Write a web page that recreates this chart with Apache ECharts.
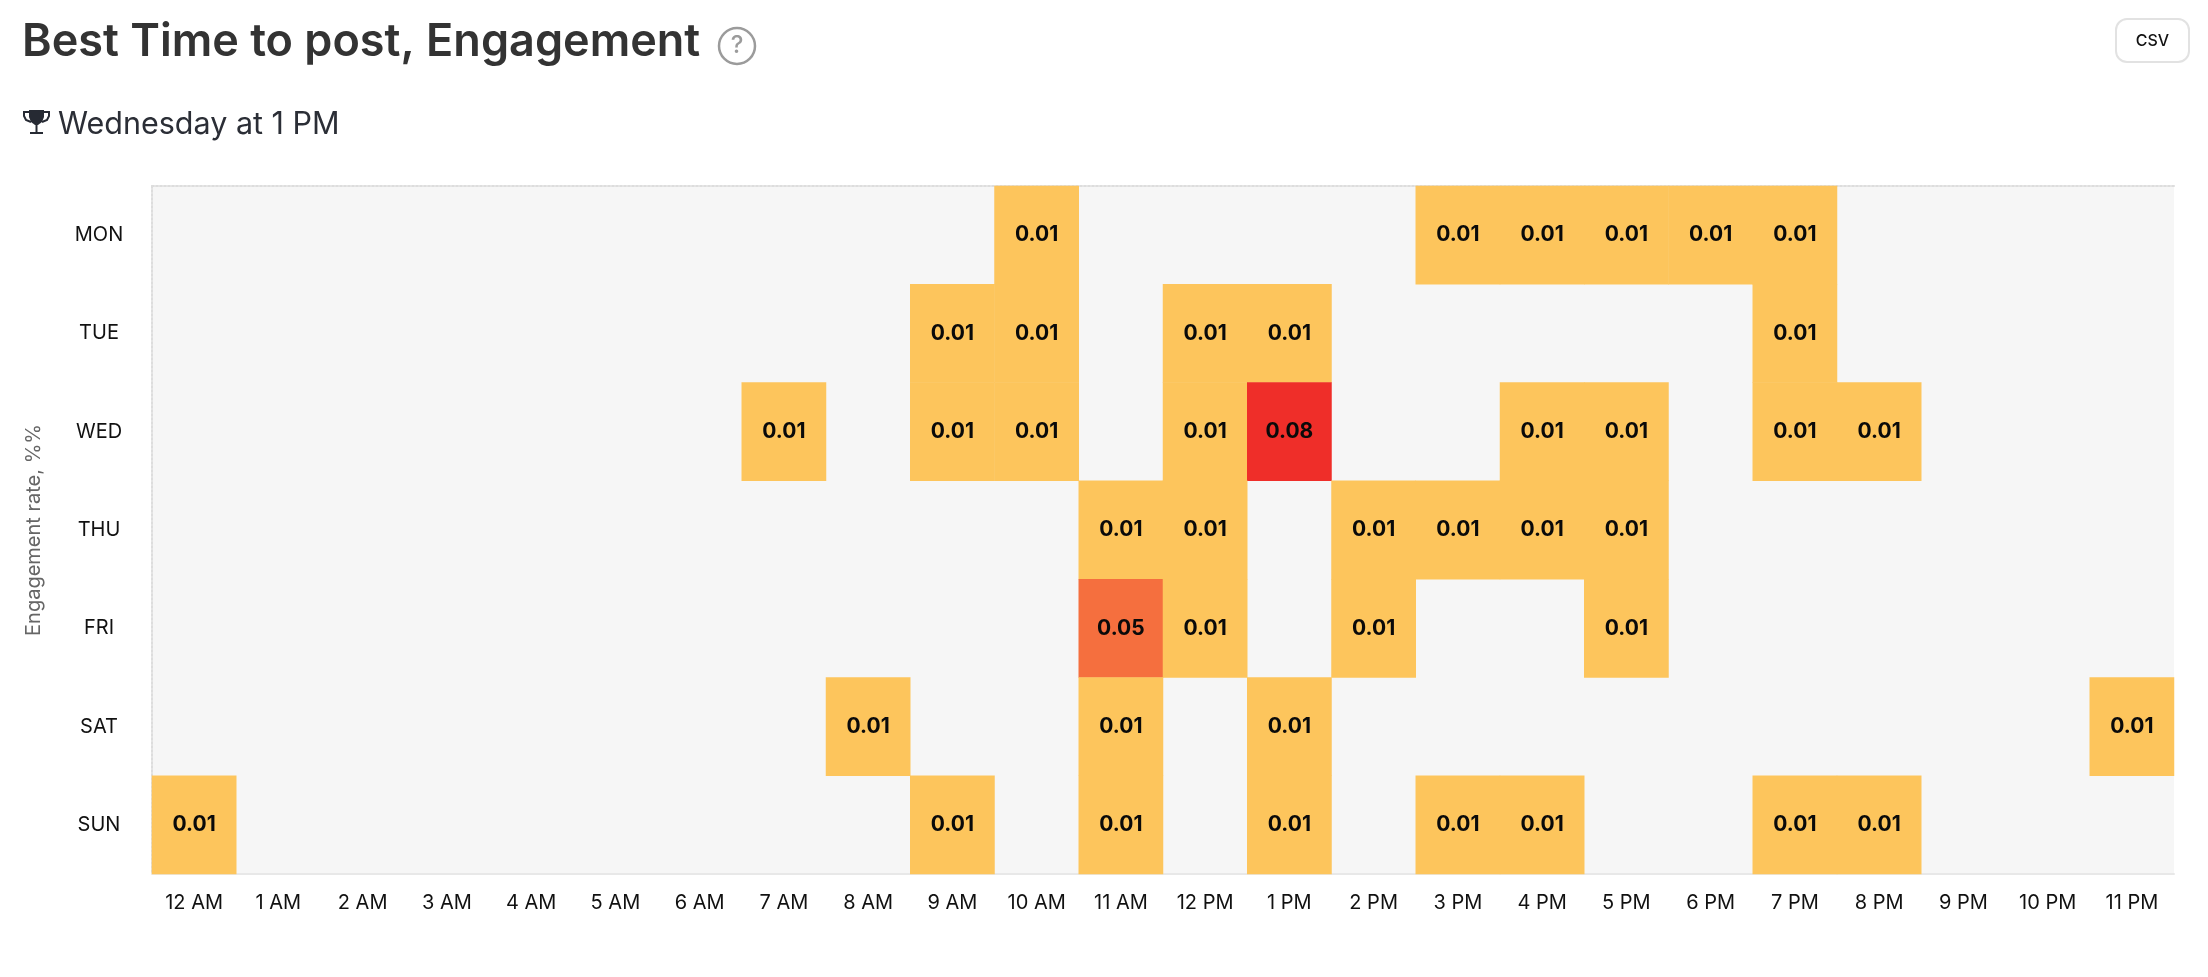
<!DOCTYPE html>
<html><head><meta charset="utf-8">
<style>html,body{margin:0;padding:0;background:#fff}#c{width:2208px;height:977px}</style>
<script src="https://cdn.jsdelivr.net/npm/echarts@6/dist/echarts.min.js"></script>
</head><body><div id="c"></div>
<script>
const hours = ['12 AM','1 AM','2 AM','3 AM','4 AM','5 AM','6 AM','7 AM','8 AM','9 AM','10 AM','11 AM','12 PM','1 PM','2 PM','3 PM','4 PM','5 PM','6 PM','7 PM','8 PM','9 PM','10 PM','11 PM'];
const days = ['MON','TUE','WED','THU','FRI','SAT','SUN'];
const _ = null;
const mon = [_,_,_,_,_,_,_,_,_,_,0.01,_,_,_,_,0.01,0.01,0.01,0.01,0.01,_,_,_,_];
const tue = [_,_,_,_,_,_,_,_,_,0.01,0.01,_,0.01,0.01,_,_,_,_,_,0.01,_,_,_,_];
const wed = [_,_,_,_,_,_,_,0.01,_,0.01,0.01,_,0.01,0.08,_,_,0.01,0.01,_,0.01,0.01,_,_,_];
const thu = [_,_,_,_,_,_,_,_,_,_,_,0.01,0.01,_,0.01,0.01,0.01,0.01,_,_,_,_,_,_];
const fri = [_,_,_,_,_,_,_,_,_,_,_,0.05,0.01,_,0.01,_,_,0.01,_,_,_,_,_,_];
const sat = [_,_,_,_,_,_,_,_,0.01,_,_,0.01,_,0.01,_,_,_,_,_,_,_,_,_,0.01];
const sun = [0.01,_,_,_,_,_,_,_,_,0.01,_,0.01,_,0.01,_,0.01,0.01,_,_,0.01,0.01,_,_,_];
const rows = [mon,tue,wed,thu,fri,sat,sun];
const cells = [];
rows.forEach((r,y)=>r.forEach((v,x)=>{ if(v!==null) cells.push([x,y,v]); }));
const FONT = 'Inter';
const chart = echarts.init(document.getElementById('c'), null, {renderer:'canvas'});
chart.setOption({
  animation:false,
  backgroundColor:'#fff',
  textStyle:{fontFamily:FONT},
  title:[
    {text:'Best Time to post, Engagement',left:17,top:15,textStyle:{fontFamily:FONT,fontSize:45,fontWeight:600,color:'#333333'}},
    {text:'Wednesday at 1 PM',left:53,top:104,textStyle:{fontFamily:FONT,fontSize:30.5,fontWeight:400,color:'#2b2e36'}}
  ],
  grid:{left:152,right:34,top:186,bottom:103,show:true,backgroundColor:'#f6f6f6',borderWidth:0},
  xAxis:[
    {type:'category',data:hours,position:'bottom',
     axisLine:{show:true,lineStyle:{color:'#e8e8e8',width:2}},axisTick:{show:false},
     axisLabel:{interval:0,fontFamily:FONT,fontSize:20,color:'#111',margin:19},splitLine:{show:false},splitArea:{show:false}},
    {type:'category',data:hours,position:'top',
     axisLine:{show:true,lineStyle:{color:'#dddddd',width:2,type:'dotted'}},axisTick:{show:false},axisLabel:{show:false}}
  ],
  yAxis:{type:'category',data:days,inverse:true,
    name:'Engagement rate, %%',nameLocation:'middle',nameGap:108,nameRotate:90,
    nameTextStyle:{fontFamily:FONT,fontSize:20,color:'#666666'},
    axisLine:{show:true,lineStyle:{color:'#dddddd',width:2,type:'dotted'}},axisTick:{show:false},
    axisLabel:{fontFamily:FONT,fontSize:20,color:'#111',align:'center',margin:53},splitLine:{show:false},splitArea:{show:false}},
  visualMap:{show:false,type:'piecewise',dimension:2,seriesIndex:0,
    pieces:[{max:0.02,color:'#fdc55c'},{min:0.02,max:0.07,color:'#f56f3e'},{min:0.07,color:'#ef2e29'}]},
  series:[{type:'heatmap',data:cells,xAxisIndex:0,
    label:{show:true,fontFamily:FONT,fontSize:21,fontWeight:700,color:'#0a0a0a',
      formatter:p=>p.value[2].toFixed(2)},
    itemStyle:{borderWidth:0}}],
  graphic:[
    {type:'circle',shape:{cx:737,cy:46,r:18},style:{fill:'#fff',stroke:'#9b9b9b',lineWidth:2.5}},
    {type:'text',x:737,y:46,style:{text:'?',fontFamily:FONT,fontSize:24,fontWeight:500,fill:'#9b9b9b',textAlign:'center',textVerticalAlign:'middle'}},
    {type:'polygon',shape:{points:[[29,110],[44,110],[44,117],[42,122],[38,125],[35,125],[31,122],[29,117]]},style:{fill:'#262a33'}},
    {type:'rect',shape:{x:35.5,y:124,width:2,height:8},style:{fill:'#262a33'}},
    {type:'rect',shape:{x:30,y:132,width:13,height:2},style:{fill:'#262a33'}},
    {type:'polyline',shape:{points:[[29,112],[24,112],[24,116],[26,120],[31,122]]},style:{fill:'none',stroke:'#262a33',lineWidth:2}},
    {type:'polyline',shape:{points:[[44,112],[49,112],[49,116],[47,120],[42,122]]},style:{fill:'none',stroke:'#262a33',lineWidth:2}},
    {type:'rect',shape:{x:2116,y:19,width:73,height:43,r:11},style:{fill:'#fff',stroke:'#e2e2e2',lineWidth:2}},
    {type:'text',x:2152.5,y:41,style:{text:'CSV',fontFamily:FONT,fontSize:16,fontWeight:500,fill:'#111',textAlign:'center',textVerticalAlign:'middle'}}
  ]
});
</script></body></html>
